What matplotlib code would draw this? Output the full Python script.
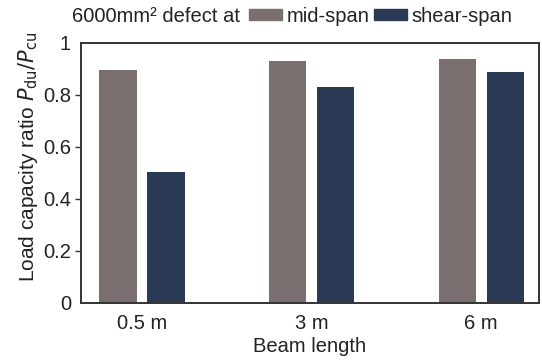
import matplotlib.pyplot as plt
import numpy as np
from matplotlib.patches import Patch

plt.rcParams['font.family'] = ['Liberation Sans', 'DejaVu Sans']

beam_lengths = ['0.5 m', '3 m', '6 m']
mid_span = [0.895, 0.932, 0.938]
shear_span = [0.505, 0.830, 0.886]
yticks = [0, 0.2, 0.4, 0.6, 0.8, 1]
ytick_labels = ['0', '0.2', '0.4', '0.6', '0.8', '1']

mid_color = '#796f6e'
shear_color = '#2a3a55'
text_color = '#222222'

fig = plt.figure(figsize=(5.42, 3.6), dpi=100)
ax = fig.add_axes([0.149, 0.159, 0.8455, 0.722])

x = np.arange(len(beam_lengths))
w = 0.22
off = 0.1415
ax.bar(x - off, mid_span, w, color=mid_color)
ax.bar(x + off, shear_span, w, color=shear_color)

ax.set_xlim(-0.36, 2.34)
ax.set_ylim(0, 1)
ax.set_xticks(x)
ax.set_xticklabels(beam_lengths, fontsize=14.5, color=text_color)
ax.set_yticks(yticks)
ax.set_yticklabels(ytick_labels, fontsize=14.5, color=text_color)
ax.tick_params(axis='x', length=0, pad=8)
ax.tick_params(axis='y', direction='out', length=4, width=1, color='#333333', pad=3)
ticks = ax.yaxis.get_major_ticks()
ticks[0].tick1line.set_visible(False)
ticks[-1].tick1line.set_visible(False)

for s in ['top', 'bottom', 'left', 'right']:
    ax.spines[s].set_linewidth(1.4)
    ax.spines[s].set_color('#333333')

ax.set_xlabel('Beam length', fontsize=14.5, color=text_color, labelpad=3)
ax.set_ylabel('Load capacity ratio $\\mathit{P}_{\\mathrm{du}}/\\mathit{P}_{\\mathrm{cu}}$',
              fontsize=15, color=text_color)
ax.yaxis.set_label_coords(-0.088, 0.56)

# legend line above the plot
fig.text(72 / 542, 1 - 17 / 360, '6000mm² defect at', fontsize=14.5,
         color=text_color, va='center', ha='left')
handles = [Patch(color=mid_color), Patch(color=shear_color)]
fig.legend(handles, ['mid-span', 'shear-span'], ncol=2, loc='center left',
           bbox_to_anchor=(249 / 542, 1 - 16 / 360), frameon=False,
           fontsize=14.5, handlelength=1.65, handleheight=0.45,
           handletextpad=0.2, columnspacing=0.25, borderpad=0, borderaxespad=0,
           labelcolor=text_color)

fig.savefig('out.png', dpi=100)
